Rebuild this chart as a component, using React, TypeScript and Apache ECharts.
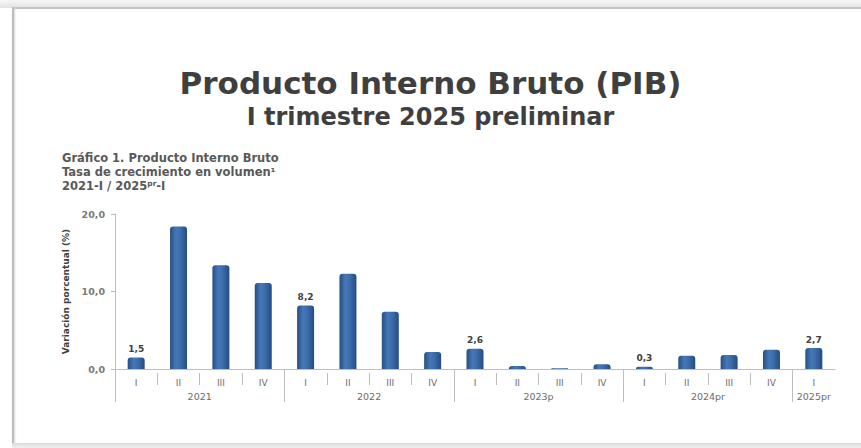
import React, { useEffect, useRef } from "react";
import * as echarts from "echarts";

const quarters = ["I", "II", "III", "IV", "I", "II", "III", "IV", "I", "II", "III", "IV", "I", "II", "III", "IV", "I"];
const years = ["2021", "2022", "2023p", "2024pr", "2025pr"];
const quartersPerYear = [4, 4, 4, 4, 1];
const growth = [1.5, 18.4, 13.4, 11.1, 8.2, 12.3, 7.4, 2.2, 2.6, 0.4, 0.1, 0.6, 0.3, 1.7, 1.8, 2.5, 2.7];
const labelledIdx = [0, 4, 8, 12, 16];
const yTicks = [0, 10, 20];

export default function App() {
  const ref = useRef<HTMLDivElement>(null);
  useEffect(() => {
    if (!ref.current) return;
    const chart = echarts.init(ref.current, null, { renderer: "svg" });

    // half-step helper axes (35 points, boundaryGap false): point k sits at k/2 categories
    const n = quarters.length;
    const halfPts = 2 * n + 1;
    const yearLabels: string[] = new Array(halfPts).fill("");
    const yearBounds: number[] = [];
    let start = 0;
    years.forEach((y, i) => {
      const q = quartersPerYear[i];
      yearBounds.push(start * 2);
      const center = start * 2 + q; // in half units
      yearLabels[center] = y;
      start += q;
    });
    const halfCats = yearLabels.map((l, i) => (l === "" ? " ".repeat(i + 1) : l));

    const fmt = (v: number) => v.toFixed(1).replace(".", ",");
    const ff = "DejaVu Sans";
    const subStyle = { fontFamily: ff, fontWeight: "bold", fontSize: 11.5, lineHeight: 14, color: "#595959" };

    chart.setOption({
      animation: false,
      title: [
        {
          text: "Producto Interno Bruto (PIB)",
          left: "center",
          top: 65,
          padding: 0,
          textStyle: { fontFamily: ff, fontWeight: "bold", fontSize: 31, lineHeight: 36, color: "#3f3f3f" },
        },
        {
          text: "I trimestre 2025 preliminar",
          left: "center",
          top: 102,
          padding: 0,
          textStyle: { fontFamily: ff, fontWeight: "bold", fontSize: 24, lineHeight: 29, color: "#3f3f3f" },
        },
        { text: "Gráfico 1. Producto Interno Bruto", left: 62, top: 151, padding: 0, textStyle: subStyle },
        { text: "Tasa de crecimiento en volumen¹", left: 62, top: 165, padding: 0, textStyle: subStyle },
        {
          text: "{a|2021-I / 2025}{s|pr}{a|-I}",
          left: 62,
          top: 179,
          padding: 0,
          textStyle: {
            ...subStyle,
            rich: {
              a: { ...subStyle },
              s: { ...subStyle, fontSize: 7.5, verticalAlign: "top" },
            },
          },
        },
      ],
      grid: { left: 115, right: 26, top: 214, bottom: 79, containLabel: false },
      xAxis: [
        {
          type: "category",
          data: quarters,
          position: "bottom",
          axisLine: { show: true, lineStyle: { color: "#bdbdbd", width: 1 } },
          axisTick: { show: false },
          axisLabel: { interval: 0, margin: 9, fontSize: 9, color: "#6b6b6b", fontFamily: ff },
        },
        {
          type: "category",
          data: halfCats,
          boundaryGap: false,
          position: "bottom",
          offset: 4,
          axisLine: { show: false },
          axisTick: {
            show: true,
            length: 12,
            interval: (i: number) => i % 2 === 0 && i < halfPts - 1 && yearBounds.indexOf(i) < 0,
            lineStyle: { color: "#bdbdbd" },
          },
          axisLabel: { show: false },
        },
        {
          type: "category",
          data: halfCats,
          boundaryGap: false,
          position: "bottom",
          axisLine: { show: false },
          axisTick: {
            show: true,
            length: 33,
            interval: (i: number) => yearBounds.indexOf(i) >= 0,
            lineStyle: { color: "#bdbdbd" },
          },
          axisLabel: {
            interval: 0,
            margin: 22,
            fontSize: 9.5,
            color: "#6b6b6b",
            fontFamily: ff,
            formatter: (v: string) => v.trim(),
          },
        },
      ],
      yAxis: {
        type: "value",
        min: yTicks[0],
        max: yTicks[yTicks.length - 1],
        interval: 10,
        name: "Variación porcentual (%)",
        nameLocation: "middle",
        nameGap: 44,
        nameRotate: 90,
        nameTextStyle: { fontFamily: ff, fontWeight: "bold", fontSize: 9, color: "#404040" },
        axisLine: { show: true, lineStyle: { color: "#bdbdbd" } },
        axisTick: { show: true, length: 4, lineStyle: { color: "#bdbdbd" } },
        splitLine: { show: false },
        axisLabel: {
          margin: 10,
          fontSize: 9.5,
          fontWeight: "bold",
          color: "#7a7a7a",
          fontFamily: ff,
          formatter: (v: number) => fmt(v),
        },
      },
      series: [
        {
          type: "bar",
          xAxisIndex: 0,
          barWidth: 17,
          data: growth.map((v, i) => ({
            value: v,
            label: {
              show: labelledIdx.indexOf(i) >= 0,
              position: "top",
              distance: 4,
              formatter: () => fmt(v),
              fontFamily: ff,
              fontWeight: "bold",
              fontSize: 9,
              color: "#404040",
            },
          })),
          itemStyle: {
            borderRadius: [3, 3, 0, 0],
            color: new echarts.graphic.LinearGradient(0, 0, 1, 0, [
              { offset: 0, color: "#264f85" },
              { offset: 0.35, color: "#4677b6" },
              { offset: 0.6, color: "#3d6dab" },
              { offset: 1, color: "#244c80" },
            ]),
          },
        },
      ],
    });
    return () => chart.dispose();
  }, []);

  return (
    <div style={{ position: "fixed", left: 0, top: 0, width: 861, height: 448, background: "#ffffff", overflow: "hidden" }}>
      <div style={{ position: "absolute", left: 0, top: 0, width: 861, height: 8, background: "linear-gradient(#f7f7f7, #e2e2e2)" }} />
      <div style={{ position: "absolute", left: 13, top: 7, width: 848, height: 1.5, background: "#c4c4c4" }} />
      <div style={{ position: "absolute", left: 12, top: 7, width: 2, height: 437, background: "#bcbcbc", boxShadow: "1px 0 2px #d8d8d8" }} />
      <div style={{ position: "absolute", left: 12, top: 443, width: 849, height: 5, background: "linear-gradient(#dcdcdc, #efefef)" }} />
      <div ref={ref} style={{ position: "absolute", left: 0, top: 0, width: 861, height: 448 }} />
    </div>
  );
}
